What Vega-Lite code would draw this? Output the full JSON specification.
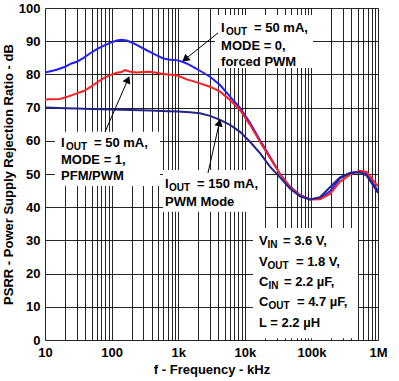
{
  "$schema": "https://vega.github.io/schema/vega-lite/v6.json",
  "autosize": "none",
  "width": 333,
  "height": 332,
  "padding": {"left": 45, "top": 8, "right": 21, "bottom": 41},
  "background": "white",
  "data": {"values": [{}]},
  "config": {
    "view": {"stroke": null},
    "font": "Liberation Sans",
    "axis": {
      "labelFont": "Liberation Sans", "labelFontSize": 13, "labelFontWeight": "bold", "labelColor": "#000",
      "titleFont": "Liberation Sans", "titleFontSize": 13, "titleFontWeight": "bold", "titleColor": "#000",
      "grid": true, "gridColor": "#000", "gridOpacity": 0.85, "gridWidth": 1,
      "ticks": false, "domain": false, "labelOverlap": false, "labelBound": false, "labelFlush": false
    },
    "text": {"font": "Liberation Sans", "fontWeight": "bold", "fontSize": 13, "align": "left", "baseline": "alphabetic", "color": "#000"}
  },
  "datasets": {
    "curves": [
      {"f": 10, "psrr": 80.6, "s": "b"}, {"f": 11.2, "psrr": 80.8, "s": "b"}, {"f": 15, "psrr": 81.4, "s": "b"}, {"f": 20, "psrr": 82.3, "s": "b"}, {"f": 25, "psrr": 83.3, "s": "b"}, {"f": 30, "psrr": 83.8, "s": "b"}, {"f": 38, "psrr": 85.0, "s": "b"}, {"f": 47, "psrr": 86.3, "s": "b"}, {"f": 60, "psrr": 87.6, "s": "b"}, {"f": 75, "psrr": 88.6, "s": "b"}, {"f": 95, "psrr": 89.5, "s": "b"}, {"f": 119, "psrr": 90.2, "s": "b"}, {"f": 140, "psrr": 90.4, "s": "b"}, {"f": 168, "psrr": 90.2, "s": "b"}, {"f": 200, "psrr": 89.6, "s": "b"}, {"f": 237, "psrr": 88.9, "s": "b"}, {"f": 300, "psrr": 87.8, "s": "b"}, {"f": 376, "psrr": 86.8, "s": "b"}, {"f": 470, "psrr": 85.8, "s": "b"}, {"f": 597, "psrr": 84.8, "s": "b"}, {"f": 750, "psrr": 84.4, "s": "b"}, {"f": 950, "psrr": 84.3, "s": "b"}, {"f": 1150, "psrr": 83.8, "s": "b"}, {"f": 1340, "psrr": 83.3, "s": "b"}, {"f": 1700, "psrr": 82.2, "s": "b"}, {"f": 2120, "psrr": 81.1, "s": "b"}, {"f": 3000, "psrr": 79.3, "s": "b"}, {"f": 4250, "psrr": 76.8, "s": "b"}, {"f": 6000, "psrr": 73.3, "s": "b"}, {"f": 8480, "psrr": 69.9, "s": "b"}, {"f": 11970, "psrr": 65.4, "s": "b"}, {"f": 16900, "psrr": 60.2, "s": "b"}, {"f": 23900, "psrr": 55.2, "s": "b"}, {"f": 33800, "psrr": 50.0, "s": "b"}, {"f": 47700, "psrr": 46.2, "s": "b"}, {"f": 67400, "psrr": 43.7, "s": "b"}, {"f": 95300, "psrr": 42.4, "s": "b"}, {"f": 134600, "psrr": 42.6, "s": "b"}, {"f": 190000, "psrr": 44.8, "s": "b"}, {"f": 269000, "psrr": 48.7, "s": "b"}, {"f": 380000, "psrr": 50.3, "s": "b"}, {"f": 537000, "psrr": 50.8, "s": "b"}, {"f": 676000, "psrr": 50.0, "s": "b"}, {"f": 852000, "psrr": 47.0, "s": "b"}, {"f": 1000000, "psrr": 45.0, "s": "b"},
      {"f": 10, "psrr": 72.4, "s": "r"}, {"f": 11.2, "psrr": 72.5, "s": "r"}, {"f": 16.8, "psrr": 72.6, "s": "r"}, {"f": 22, "psrr": 73.3, "s": "r"}, {"f": 30, "psrr": 74.3, "s": "r"}, {"f": 38, "psrr": 75.0, "s": "r"}, {"f": 47, "psrr": 76.1, "s": "r"}, {"f": 60, "psrr": 77.5, "s": "r"}, {"f": 75, "psrr": 78.8, "s": "r"}, {"f": 95, "psrr": 79.8, "s": "r"}, {"f": 119, "psrr": 80.5, "s": "r"}, {"f": 140, "psrr": 80.7, "s": "r"}, {"f": 159, "psrr": 81.3, "s": "r"}, {"f": 190, "psrr": 80.8, "s": "r"}, {"f": 237, "psrr": 80.6, "s": "r"}, {"f": 300, "psrr": 80.7, "s": "r"}, {"f": 376, "psrr": 80.8, "s": "r"}, {"f": 470, "psrr": 80.5, "s": "r"}, {"f": 597, "psrr": 80.1, "s": "r"}, {"f": 843, "psrr": 79.8, "s": "r"}, {"f": 1000, "psrr": 79.6, "s": "r"}, {"f": 1340, "psrr": 78.5, "s": "r"}, {"f": 1700, "psrr": 77.9, "s": "r"}, {"f": 2120, "psrr": 77.3, "s": "r"}, {"f": 3000, "psrr": 76.3, "s": "r"}, {"f": 4250, "psrr": 74.8, "s": "r"}, {"f": 6000, "psrr": 72.3, "s": "r"}, {"f": 8480, "psrr": 69.3, "s": "r"}, {"f": 11970, "psrr": 64.8, "s": "r"}, {"f": 16900, "psrr": 59.7, "s": "r"}, {"f": 23900, "psrr": 54.8, "s": "r"}, {"f": 33800, "psrr": 50.0, "s": "r"}, {"f": 47700, "psrr": 46.0, "s": "r"}, {"f": 67400, "psrr": 43.6, "s": "r"}, {"f": 95300, "psrr": 42.3, "s": "r"}, {"f": 134600, "psrr": 42.4, "s": "r"}, {"f": 190000, "psrr": 44.0, "s": "r"}, {"f": 269000, "psrr": 47.7, "s": "r"}, {"f": 380000, "psrr": 49.8, "s": "r"}, {"f": 537000, "psrr": 51.0, "s": "r"}, {"f": 676000, "psrr": 50.6, "s": "r"}, {"f": 852000, "psrr": 48.0, "s": "r"}, {"f": 1000000, "psrr": 46.3, "s": "r"},
      {"f": 10, "psrr": 70.0, "s": "n"}, {"f": 20, "psrr": 69.8, "s": "n"}, {"f": 30, "psrr": 69.7, "s": "n"}, {"f": 50, "psrr": 69.6, "s": "n"}, {"f": 67, "psrr": 69.5, "s": "n"}, {"f": 100, "psrr": 69.4, "s": "n"}, {"f": 200, "psrr": 69.3, "s": "n"}, {"f": 376, "psrr": 69.1, "s": "n"}, {"f": 700, "psrr": 68.9, "s": "n"}, {"f": 1000, "psrr": 68.8, "s": "n"}, {"f": 1500, "psrr": 68.6, "s": "n"}, {"f": 2120, "psrr": 68.3, "s": "n"}, {"f": 3000, "psrr": 67.5, "s": "n"}, {"f": 4250, "psrr": 66.3, "s": "n"}, {"f": 6000, "psrr": 64.8, "s": "n"}, {"f": 8480, "psrr": 62.7, "s": "n"}, {"f": 11970, "psrr": 59.7, "s": "n"}, {"f": 16900, "psrr": 56.3, "s": "n"}, {"f": 23900, "psrr": 52.2, "s": "n"}, {"f": 33800, "psrr": 49.0, "s": "n"}, {"f": 47700, "psrr": 45.6, "s": "n"}, {"f": 67400, "psrr": 43.3, "s": "n"}, {"f": 95300, "psrr": 42.3, "s": "n"}, {"f": 134600, "psrr": 43.0, "s": "n"}, {"f": 190000, "psrr": 46.0, "s": "n"}, {"f": 269000, "psrr": 49.0, "s": "n"}, {"f": 380000, "psrr": 50.3, "s": "n"}, {"f": 537000, "psrr": 50.5, "s": "n"}, {"f": 676000, "psrr": 49.5, "s": "n"}, {"f": 852000, "psrr": 46.5, "s": "n"}, {"f": 1000000, "psrr": 44.3, "s": "n"}
    ]
  },
  "encoding": {
    "x": {"type": "quantitative", "scale": {"type": "log", "domain": [10, 1000000], "nice": false},
      "axis": {"title": "f - Frequency - kHz", "titlePadding": 4, "labelPadding": 6,
        "values": [10,20,30,40,50,60,70,80,90,100,200,300,400,500,600,700,800,900,1000,2000,3000,4000,5000,6000,7000,8000,9000,10000,20000,30000,40000,50000,60000,70000,80000,90000,100000,200000,300000,400000,500000,600000,700000,800000,900000,1000000],
        "labelExpr": "datum.value == 10 ? '10' : datum.value == 100 ? '100' : datum.value == 1000 ? '1k' : datum.value == 10000 ? '10k' : datum.value == 100000 ? '100k' : datum.value == 1000000 ? '1M' : ''"}},
    "y": {"type": "quantitative", "scale": {"domain": [0, 100], "nice": false},
      "axis": {"title": "PSRR - Power Supply Rejection Ratio - dB", "values": [0,10,20,30,40,50,60,70,80,90,100], "labelPadding": 5, "titlePadding": 3}}
  },
  "layer": [
    {"mark": {"type": "rect", "fill": "white"}, "encoding": {"x": {"datum": 3570}, "x2": {"datum": 105700}, "y": {"datum": 81.9}, "y2": {"datum": 97.9}}},
    {"mark": {"type": "rect", "fill": "white"}, "encoding": {"x": {"datum": 14.1}, "x2": {"datum": 533}, "y": {"datum": 46.4}, "y2": {"datum": 62.7}}},
    {"mark": {"type": "rect", "fill": "white"}, "encoding": {"x": {"datum": 592}, "x2": {"datum": 20100}, "y": {"datum": 38.6}, "y2": {"datum": 51.2}}},
    {"mark": {"type": "rect", "fill": "white"}, "encoding": {"x": {"datum": 13270}, "x2": {"datum": 501000}, "y": {"datum": 0.5}, "y2": {"datum": 33.7}}},
    {"data": {"name": "curves"}, "mark": {"type": "line", "strokeWidth": 2},
      "encoding": {"x": {"field": "f", "type": "quantitative"}, "y": {"field": "psrr", "type": "quantitative"},
        "color": {"field": "s", "type": "nominal", "scale": {"domain": ["n", "b", "r"], "range": ["#23238c", "#1f1fff", "#ff1f1f"]}, "legend": null}}},
    {"mark": {"type": "rule", "color": "#000", "strokeWidth": 1}, "encoding": {"x": {"datum": 3963}, "y": {"datum": 92.5}, "x2": {"datum": 1315}, "y2": {"datum": 84.8}}},
    {"mark": {"type": "rule", "color": "#000", "strokeWidth": 1}, "encoding": {"x": {"datum": 79.6}, "y": {"datum": 62.65}, "x2": {"datum": 172.6}, "y2": {"datum": 78.1}}},
    {"mark": {"type": "rule", "color": "#000", "strokeWidth": 1}, "encoding": {"x": {"datum": 2800}, "y": {"datum": 50.3}, "x2": {"datum": 4110}, "y2": {"datum": 65.1}}},
    {"mark": {"type": "point", "shape": "triangle", "filled": true, "color": "#000", "size": 70, "opacity": 1, "angle": 231}, "encoding": {"x": {"datum": 1315}, "y": {"datum": 84.8}}},
    {"mark": {"type": "point", "shape": "triangle", "filled": true, "color": "#000", "size": 70, "opacity": 1, "angle": 24}, "encoding": {"x": {"datum": 172.6}, "y": {"datum": 78.1}}},
    {"mark": {"type": "point", "shape": "triangle", "filled": true, "color": "#000", "size": 70, "opacity": 1, "angle": 13}, "encoding": {"x": {"datum": 4110}, "y": {"datum": 65.1}}},

    {"mark": {"type": "text", "text": "I"}, "encoding": {"x": {"datum": 4400}, "y": {"datum": 92.9}}},
    {"mark": {"type": "text", "text": "OUT", "fontSize": 10, "dx": 5, "dy": 3}, "encoding": {"x": {"datum": 4400}, "y": {"datum": 92.9}}},
    {"mark": {"type": "text", "text": "= 50 mA,", "dx": 33}, "encoding": {"x": {"datum": 4400}, "y": {"datum": 92.9}}},
    {"mark": {"type": "text", "text": "MODE = 0,"}, "encoding": {"x": {"datum": 4400}, "y": {"datum": 87.35}}},
    {"mark": {"type": "text", "text": "forced PWM"}, "encoding": {"x": {"datum": 4400}, "y": {"datum": 82.4}}},

    {"mark": {"type": "text", "text": "I"}, "encoding": {"x": {"datum": 17.4}, "y": {"datum": 58.1}}},
    {"mark": {"type": "text", "text": "OUT", "fontSize": 10, "dx": 5, "dy": 3}, "encoding": {"x": {"datum": 17.4}, "y": {"datum": 58.1}}},
    {"mark": {"type": "text", "text": "= 50 mA,", "dx": 33}, "encoding": {"x": {"datum": 17.4}, "y": {"datum": 58.1}}},
    {"mark": {"type": "text", "text": "MODE = 1,"}, "encoding": {"x": {"datum": 17.4}, "y": {"datum": 53.1}}},
    {"mark": {"type": "text", "text": "PFM/PWM"}, "encoding": {"x": {"datum": 17.4}, "y": {"datum": 48.1}}},

    {"mark": {"type": "text", "text": "I"}, "encoding": {"x": {"datum": 634}, "y": {"datum": 45.9}}},
    {"mark": {"type": "text", "text": "OUT", "fontSize": 10, "dx": 4, "dy": 3}, "encoding": {"x": {"datum": 634}, "y": {"datum": 45.9}}},
    {"mark": {"type": "text", "text": "= 150 mA,", "dx": 32}, "encoding": {"x": {"datum": 634}, "y": {"datum": 45.9}}},
    {"mark": {"type": "text", "text": "PWM Mode"}, "encoding": {"x": {"datum": 634}, "y": {"datum": 40.5}}},

    {"mark": {"type": "text", "text": "V"}, "encoding": {"x": {"datum": 16300}, "y": {"datum": 28.6}}},
    {"mark": {"type": "text", "text": "IN", "fontSize": 10, "dx": 8.5, "dy": 3}, "encoding": {"x": {"datum": 16300}, "y": {"datum": 28.6}}},
    {"mark": {"type": "text", "text": "= 3.6 V,", "dx": 24}, "encoding": {"x": {"datum": 16300}, "y": {"datum": 28.6}}},
    {"mark": {"type": "text", "text": "V"}, "encoding": {"x": {"datum": 16300}, "y": {"datum": 22.4}}},
    {"mark": {"type": "text", "text": "OUT", "fontSize": 10, "dx": 8.5, "dy": 3}, "encoding": {"x": {"datum": 16300}, "y": {"datum": 22.4}}},
    {"mark": {"type": "text", "text": "= 1.8 V,", "dx": 37}, "encoding": {"x": {"datum": 16300}, "y": {"datum": 22.4}}},
    {"mark": {"type": "text", "text": "C"}, "encoding": {"x": {"datum": 16300}, "y": {"datum": 16.3}}},
    {"mark": {"type": "text", "text": "IN", "fontSize": 10, "dx": 9.5, "dy": 3}, "encoding": {"x": {"datum": 16300}, "y": {"datum": 16.3}}},
    {"mark": {"type": "text", "text": "= 2.2 µF,", "dx": 25}, "encoding": {"x": {"datum": 16300}, "y": {"datum": 16.3}}},
    {"mark": {"type": "text", "text": "C"}, "encoding": {"x": {"datum": 16300}, "y": {"datum": 10.1}}},
    {"mark": {"type": "text", "text": "OUT", "fontSize": 10, "dx": 9.5, "dy": 3}, "encoding": {"x": {"datum": 16300}, "y": {"datum": 10.1}}},
    {"mark": {"type": "text", "text": "= 4.7 µF,", "dx": 38}, "encoding": {"x": {"datum": 16300}, "y": {"datum": 10.1}}},
    {"mark": {"type": "text", "text": "L = 2.2 µH"}, "encoding": {"x": {"datum": 16300}, "y": {"datum": 3.9}}}
  ]
}
